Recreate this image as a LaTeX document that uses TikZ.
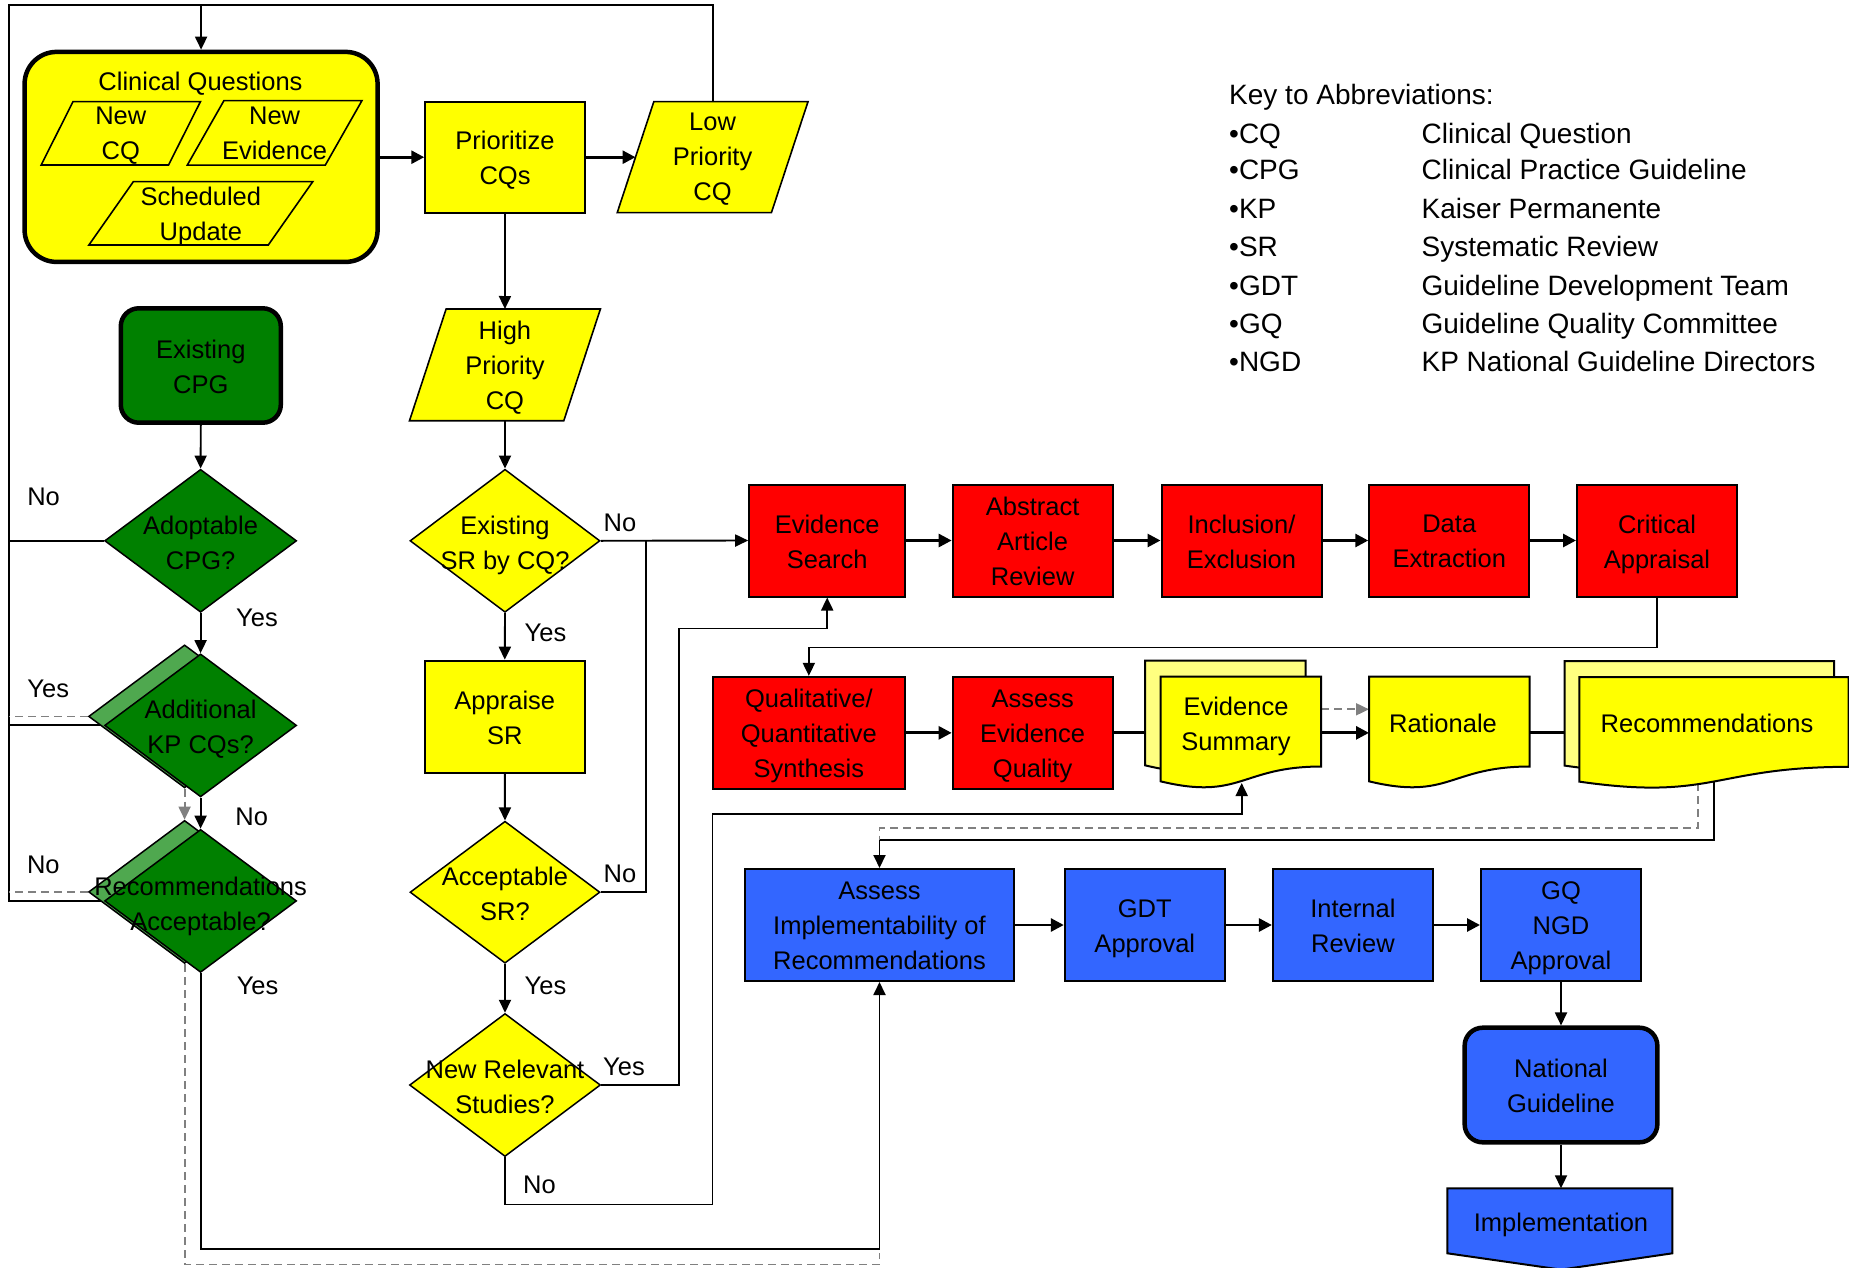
\documentclass[tikz,border=0pt]{standalone}
\usepackage{fontspec}
\setmainfont{Liberation Sans}
\usetikzlibrary{arrows.meta,shapes.geometric,backgrounds}
\definecolor{cyel}{HTML}{FFFF00}
\definecolor{clyel}{HTML}{FFFF80}
\definecolor{cred}{HTML}{FF0000}
\definecolor{cblue}{HTML}{3366FF}
\definecolor{cgreen}{HTML}{008000}
\definecolor{clgreen}{HTML}{4FA84F}
\definecolor{cgray}{HTML}{808080}
\tikzset{
 txt/.style={font=\fontsize{25.5pt}{35pt}\selectfont, align=center, inner sep=0pt, text depth=0pt},
 box/.style={draw=black, line width=2pt, rectangle, minimum height=112pt, minimum width=160pt, inner sep=0pt},
 redbox/.style={box, fill=cred},
 bluebox/.style={box, fill=cblue},
 yelbox/.style={box, fill=cyel},
 thickbox/.style={box, line width=4.5pt, rounded corners=18pt},
 dia/.style={diamond, draw=black, line width=1.5pt, minimum width=192pt, minimum height=143pt, inner sep=0pt},
 conn/.style={line width=1.9pt, -{Triangle[length=13pt,width=12pt]}},
 connb/.style={line width=2.8pt, -{Triangle[length=13pt,width=13pt]}},
 plain/.style={line width=1.9pt},
 gdash/.style={draw=cgray, line width=1.8pt, dash pattern=on 8pt off 5pt},
 garr/.style={gdash, -{Triangle[length=13pt,width=12pt]}},
 lbl/.style={font=\fontsize{25.5pt}{30pt}\selectfont, inner sep=0pt},
 keytxt/.style={font=\fontsize{28pt}{34pt}\selectfont, inner sep=0pt, anchor=base west},
}
% box with its text: style, name, x, y, text
\newcommand{\mybox}[5]{%
 \node[#1] (#2) at (#3,#4) {};
 \node[txt] (#2-t) at (#3,{#4+0.8}) {#5};
}
% parallelogram: name, cx, cy, half width, half height, slant, fill, text
\newcommand{\mypara}[8]{%
 \draw[line width=1.6pt, fill=#7] ({#2-#4+#6},{#3-#5}) -- ({#2+#4+#6},{#3-#5}) -- ({#2+#4-#6},{#3+#5}) -- ({#2-#4-#6},{#3+#5}) -- cycle;
 \node[txt] (#1) at (#2,#3) {#8};
 \coordinate (#1-n) at (#2,{#3-#5});
 \coordinate (#1-s) at (#2,{#3+#5});
 \coordinate (#1-w) at ({#2-#4},#3);
}
% document shape: left, top, width, height, fill
\newcommand{\mydoc}[5]{%
 \draw[line width=2pt, fill=#5] (#1,#2) -- ({#1+#3},#2) -- ({#1+#3},{#2+0.802*#4})
  .. controls ({#1+0.5*#3},{#2+0.802*#4}) and ({#1+0.5*#3},{#2+1.1075*#4}) .. (#1,{#2+0.934*#4}) -- cycle;
}
\begin{document}
\begin{tikzpicture}[x=1pt,y=-1pt]
\useasboundingbox (0,0) rectangle (1849,1268);

% ---------- Clinical questions group
\node[draw=black, line width=4.5pt, fill=cyel, rounded corners=32pt, minimum width=353pt, minimum height=210pt, inner sep=0pt] (cq) at (201.1,156.9) {};
\node[txt] (cqt) at (200.5,81.7) {Clinical Questions};
\mypara{ncq}{120.8}{133.3}{63.7}{31.7}{15.95}{cyel}{New\\CQ}
\mypara{nev}{274.6}{132.9}{69}{32.2}{18.3}{cyel}{New\\Evidence}
\mypara{sch}{200.85}{213.3}{89.7}{31.7}{22.25}{cyel}{Scheduled\\Update}

\mybox{yelbox, minimum width=159.5pt, minimum height=111pt}{prio}{505}{157.2}{Prioritize\\CQs}
\mypara{low}{712.6}{157.2}{77.1}{55.5}{18.3}{cyel}{Low\\Priority\\CQ}
\mypara{high}{504.95}{364.85}{77.15}{55.85}{18.3}{cyel}{High\\Priority\\CQ}

% ---------- green column
\mybox{thickbox, fill=cgreen, minimum height=114.4pt}{cpg}{200.8}{365.5}{Existing\\CPG}
\node[dia, fill=cgreen] (adopt) at (200.6,540.8) {};
\node[txt] (adoptt) at (200.6,542.5) {Adoptable\\CPG?};
\node[dia, fill=clgreen] (addb) at (184.6,716.4) {};
\node[dia, fill=cgreen] (addf) at (200.6,725.4) {};
\node[txt] (addt) at (200.6,727) {Additional\\KP CQs?};
\node[dia, fill=clgreen] (recb) at (184.6,891.9) {};
\node[dia, fill=cgreen] (recf) at (200.6,900.9) {};
\node[txt] (rect) at (200.6,904) {Recommendations\\Acceptable?};

% ---------- yellow column
\node[dia, fill=cyel, minimum width=190pt] (exsr) at (505,540.8) {};
\node[txt] (exsrt) at (505,543) {Existing\\SR by CQ?};
\mybox{yelbox}{appr}{504.8}{716.7}{Appraise\\SR}
\node[dia, fill=cyel, minimum width=190pt, minimum height=142pt] (acc) at (505,892.2) {};
\node[txt] (acct) at (505,894.2) {Acceptable\\SR?};
\node[dia, fill=cyel, minimum width=191pt] (newrel) at (505,1085) {};
\node[txt] (newrelt) at (505,1086.7) {New Relevant\\Studies?};

% ---------- red rows
\mybox{redbox, minimum width=156pt}{evs}{827.2}{540.5}{Evidence\\Search}
\mybox{redbox}{abs}{1032.65}{540.5}{Abstract\\Article\\Review}
\mybox{redbox}{incl}{1241.5}{540.5}{Inclusion/\\Exclusion}
\mybox{redbox}{data}{1449.25}{540.5}{Data\\Extraction}
\mybox{redbox}{crit}{1657}{540.5}{Critical\\Appraisal}
\mybox{redbox, minimum width=192.7pt}{qual}{808.85}{732.85}{Qualitative/\\Quantitative\\Synthesis}
\mybox{redbox}{aeq}{1032.65}{732.85}{Assess\\Evidence\\Quality}

% ---------- document shapes
\mydoc{1145}{660.7}{160.7}{112}{clyel}
\mydoc{1160.5}{676.7}{160.7}{112}{cyel}
\node[txt] (es) at (1236,723.7) {Evidence\\Summary};
\coordinate (es-w) at (1160.5,732.85);
\coordinate (es-e) at (1321.2,732.85);
\coordinate (es-b) at (1241.7,783);
\mydoc{1369}{676.7}{160.5}{112}{cyel}
\node[txt] (rat) at (1443,722.8) {Rationale};
\coordinate (rat-w) at (1369,732.85);
\coordinate (rat-e) at (1529.5,732.85);
\mydoc{1564.7}{661}{269.3}{112}{clyel}
\mydoc{1579.3}{677}{269.3}{112}{cyel}
\node[txt] (reco) at (1707,722.8) {Recommendations};
\coordinate (reco-w) at (1579.3,732.85);
\coordinate (reco-b) at (1714,781.5);
\coordinate (recob-b) at (1698,770);

% ---------- blue row
\mybox{bluebox, minimum width=268.2pt}{impl}{879.5}{925}{Assess\\Implementability of\\Recommendations}
\mybox{bluebox}{gdt}{1144.8}{925}{GDT\\Approval}
\mybox{bluebox}{intr}{1352.9}{925}{Internal\\Review}
\mybox{bluebox}{gq}{1561}{925}{GQ\\NGD\\Approval}
\mybox{thickbox, fill=cblue, minimum width=192.7pt, minimum height=114.6pt}{nat}{1561}{1085}{National\\Guideline}
\draw[line width=2pt, fill=cblue] (1447.4,1188.3) -- (1672.4,1188.3) -- (1672.4,1253.3) -- (1561,1269.6) -- (1447.4,1253.3) -- cycle;
\node[txt] (imp) at (1561,1222.5) {Implementation};
\coordinate (imp-n) at (1561,1188.3);

% ---------- labels
\node[lbl] at (43.6,496.7) {No};
\node[lbl] at (257,618) {Yes};
\node[lbl] at (48.2,689.3) {Yes};
\node[lbl] at (251.7,816.7) {No};
\node[lbl] at (43.3,865) {No};
\node[lbl] at (257.6,986) {Yes};
\node[lbl] at (620,522.7) {No};
\node[lbl] at (545.5,633.3) {Yes};
\node[lbl] at (620,873.5) {No};
\node[lbl] at (545.5,986) {Yes};
\node[lbl] at (624,1066.7) {Yes};
\node[lbl] at (539.4,1185) {No};

% ---------- key
\node[keytxt] at (1229,105) {Key to Abbreviations:};
\node[keytxt] at (1229,143.3) {•CQ};
\node[keytxt] at (1421.4,143.3) {Clinical Question};
\node[keytxt] at (1229,180) {•CPG};
\node[keytxt] at (1421.4,180) {Clinical Practice Guideline};
\node[keytxt] at (1229,218.3) {•KP};
\node[keytxt] at (1421.4,218.3) {Kaiser Permanente};
\node[keytxt] at (1229,256.7) {•SR};
\node[keytxt] at (1421.4,256.7) {Systematic Review};
\node[keytxt] at (1229,295) {•GDT};
\node[keytxt] at (1421.4,295) {Guideline Development Team};
\node[keytxt] at (1229,333.3) {•GQ};
\node[keytxt] at (1421.4,333.3) {Guideline Quality Committee};
\node[keytxt] at (1229,371.7) {•NGD};
\node[keytxt] at (1421.4,371.7) {KP National Guideline Directors};

% ---------- connectors
\begin{pgfonlayer}{background}
\coordinate (tl) at (8.9,4.7);
\coordinate (tr) at (712.6,4.7);
\draw[plain] (recf.west) -- (recf.west -| tl) -- (tl) -- (tr) -- (low-n);
\draw[plain] (adopt.west) -- (adopt.west -| tl);
\draw[plain] (addf.west) -- (addf.west -| tl);
\draw[gdash] (addb.west) -- (addb.west -| tl);
\draw[gdash] (recb.west) -- (recb.west -| tl);
\draw[conn] (cq.north |- tl) -- (cq.north);
\draw[connb] (cq.east |- prio.west) -- (prio.west);
\draw[connb] (prio.east) -- (low-w);
\draw[conn] (prio.south) -- (high-n);
\draw[conn] (high-s) -- (exsr.north);
\draw[conn] (cpg.south) -- (adopt.north);
\draw[conn] (adopt.south) -- (addf.north);
\draw[conn] (addf.south) -- (recf.north);
\draw[garr] (addb.south) -- (recb.north);
\draw[conn] (exsr.south) -- (appr.north);
\draw[conn] (appr.south) -- (acc.north);
\draw[conn] (acc.south) -- (newrel.north);
\draw[conn] (exsr.east) -- (evs.west);
\coordinate (j1) at (646,540.8);
\draw[plain] (acc.east) -| (j1);
\coordinate (c1) at (679,628.5);
\draw[conn] (newrel.east) -| (c1) -| (evs.south);
\coordinate (c2) at (712.5,1204.5);
\coordinate (c3) at (1241.7,814);
\draw[conn] (newrel.south) |- (c2) |- (c3) -- (es-b);
\draw[connb] (evs.east) -- (abs.west);
\draw[connb] (abs.east) -- (incl.west);
\draw[connb] (incl.east) -- (data.west);
\draw[connb] (data.east) -- (crit.west);
\draw[conn] (crit.south) -- ++(0,50) -| (qual.north);
\draw[connb] (qual.east) -- (aeq.west);
\draw[connb] (aeq.east) -- (es-w);
\draw[connb] (es-e) -- (rat-w);
\draw[garr] (1321.2,709.3) -- (rat-w |- 0,709.3);
\draw[connb] (rat-e) -- (reco-w);
\coordinate (c7) at (1714,840);
\draw[conn] (reco-b) -- (c7) -| (impl.north);
\coordinate (c8) at (1698,827.7);
\draw[gdash] (recob-b) -- (c8) -| (impl.north |- c7);
\draw[connb] (impl.east) -- (gdt.west);
\draw[connb] (gdt.east) -- (intr.west);
\draw[connb] (intr.east) -- (gq.west);
\draw[conn] (gq.south) -- (nat.north);
\draw[conn] (nat.south) -- (imp-n);
\coordinate (c5) at (879.5,1249.3);
\draw[conn] (recf.south) |- (c5) -- (impl.south);
\coordinate (c6) at (879.5,1264.5);
\draw[gdash] (recb.south) |- (c6) -- ++(0,-12);
\end{pgfonlayer}
\end{tikzpicture}
\end{document}
